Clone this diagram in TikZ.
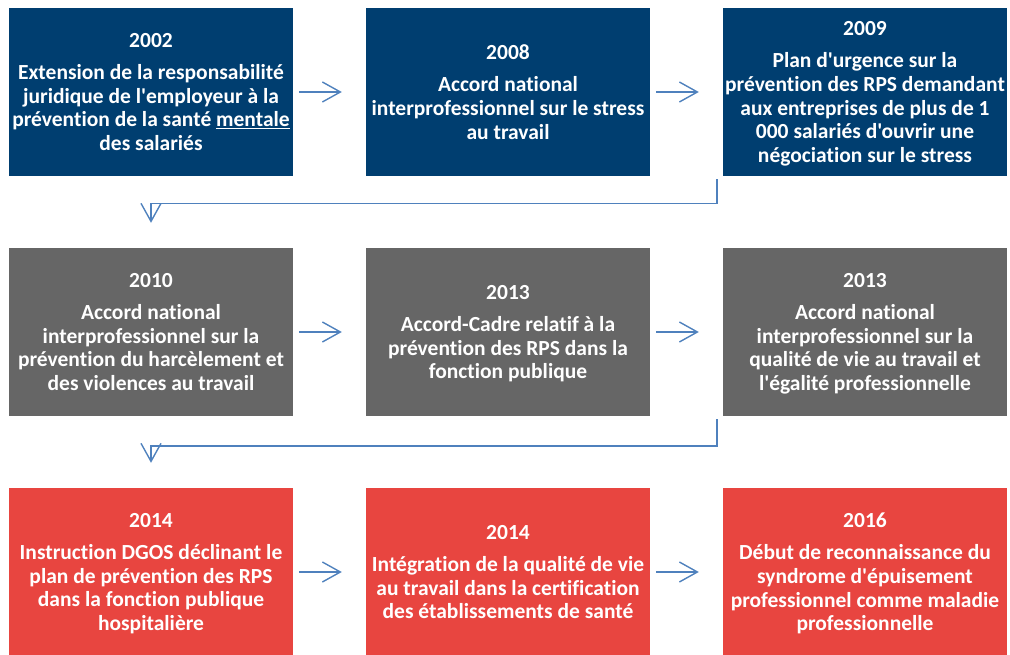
\documentclass[tikz,border=0pt]{standalone}
\usepackage{fontspec}
\newfontfamily\boxfont{Carlito}[Ligatures=NoCommon]
\usetikzlibrary{arrows.meta}
\definecolor{stepblue}{RGB}{0,62,112}
\definecolor{stepgrey}{RGB}{102,102,102}
\definecolor{stepred}{RGB}{232,69,64}
\definecolor{linkblue}{RGB}{79,129,189}
\tikzset{
  event/.style={minimum width=284pt, minimum height=168pt, inner sep=0pt,
    text=white, align=center, text depth=0pt,
    font=\boxfont\bfseries\fontsize{21.5}{23.7}\selectfont},
  bluebox/.style={event, fill=stepblue},
  greybox/.style={event, fill=stepgrey},
  redbox/.style={event, fill=stepred},
  link/.style={draw=linkblue, line width=1.4pt,
    -{Straight Barb[length=18pt, width=20pt, line width=1.4pt]}}
}
\begin{document}
\begin{tikzpicture}[x=1pt, y=-1pt]
\useasboundingbox (0,0) rectangle (1010,655);

% first row
\node[bluebox] (b1) at (151,92) {2002\\[8.3pt]Extension de la responsabilité\\juridique de l'employeur à la\\prévention de la santé \underline{mentale}\\des salariés};
\node[bluebox] (b2) at (508,92) {2008\\[8.3pt]Accord national\\interprofessionnel sur le stress\\au travail};
\node[bluebox] (b3) at (865,92) {2009\\[8.3pt]Plan d'urgence sur la\\prévention des RPS demandant\\aux entreprises de plus de 1\\000 salariés d'ouvrir une\\négociation sur le stress};

% second row
\node[greybox] (b4) at (151,332) {2010\\[8.3pt]Accord national\\interprofessionnel sur la\\prévention du harcèlement et\\des violences au travail};
\node[greybox] (b5) at (508,332) {2013\\[8.3pt]Accord-Cadre relatif à la\\prévention des RPS dans la\\fonction publique};
\node[greybox] (b6) at (865,332) {2013\\[8.3pt]Accord national\\interprofessionnel sur la\\qualité de vie au travail et\\l'égalité professionnelle};

% third row
\node[redbox] (b7) at (151,572) {2014\\[8.3pt]Instruction DGOS déclinant le\\plan de prévention des RPS\\dans la fonction publique\\hospitalière};
\node[redbox] (b8) at (508,572) {2014\\[8.3pt]Intégration de la qualité de vie\\au travail dans la certification\\des établissements de santé};
\node[redbox] (b9) at (865,572) {2016\\[8.3pt]Début de reconnaissance du\\syndrome d'épuisement\\professionnel comme maladie\\professionnelle};

% arrows within each row
\foreach \a/\b in {b1/b2, b2/b3, b4/b5, b5/b6, b7/b8, b8/b9}
  \draw[link] ([xshift=6pt]\a.east) -- ([xshift=-24pt]\b.west);

% elbow connectors between rows
\draw[link] ([xshift=-6pt,yshift=-3pt]b3.south west) |- ([yshift=44pt]b4.north) -- ([yshift=25pt]b4.north);
\draw[link] ([xshift=-6pt,yshift=-3pt]b6.south west) |- ([yshift=42pt]b7.north) -- ([yshift=25pt]b7.north);
\end{tikzpicture}
\end{document}
